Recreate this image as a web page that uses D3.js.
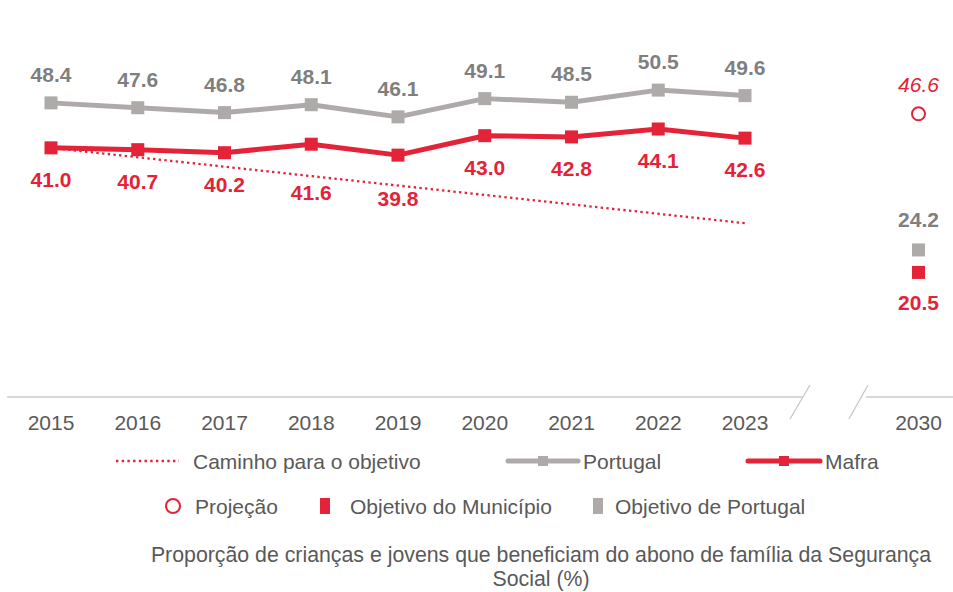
<!DOCTYPE html>
<html><head><meta charset="utf-8">
<script src="https://cdn.jsdelivr.net/npm/d3@7"></script>
<style>body{margin:0;background:#fff;}svg{display:block;font-family:"Liberation Sans",Arial,sans-serif;}</style>
</head><body><svg id="c" width="953" height="592"></svg>
<script>
const years = ["2015","2016","2017","2018","2019","2020","2021","2022","2023"];
const targetYear = "2030";
const portugal = [48.4,47.6,46.8,48.1,46.1,49.1,48.5,50.5,49.6];
const mafra = [41.0,40.7,40.2,41.6,39.8,43.0,42.8,44.1,42.6];
const pathYears = ["2015","2023"];
const pathValues = [41.0,28.6];
const projection = 46.6;
const targetMafra = 20.5;
const targetPortugal = 24.2;
const legend1 = ["Caminho para o objetivo","Portugal","Mafra"];
const legend2 = ["Projeção","Objetivo do Município","Objetivo de Portugal"];
const caption = ["Proporção de crianças e jovens que beneficiam do abono de família da Segurança","Social (%)"];

const RED="#e42338", GREY="#aeaaaa", GREYTXT="#7f7f7f", AXTXT="#595959";
const FS=21;
const svg=d3.select("#c");
const x=d3.scalePoint().domain([...years," ",targetYear]).range([51,918.5]);
const y=d3.scaleLinear().domain([0,65]).range([397,2]);

// axis line with break
const g=svg.append("g");
g.append("line").attr("x1",7).attr("x2",803).attr("y1",y(0)).attr("y2",y(0)).attr("stroke","#d9d9d9").attr("stroke-width",2);
g.append("line").attr("x1",866).attr("x2",953).attr("y1",y(0)).attr("y2",y(0)).attr("stroke","#d9d9d9").attr("stroke-width",2);
[[810,790],[868,849]].forEach(([a,b])=>g.append("line").attr("x1",a).attr("y1",385).attr("x2",b).attr("y2",419).attr("stroke","#c8c8c8").attr("stroke-width",1.3));
// tick labels
[...years,targetYear].forEach(t=>g.append("text").attr("x",x(t)).attr("y",430).attr("text-anchor","middle").attr("font-size",FS).attr("fill",AXTXT).text(t));

// dotted path
svg.append("path").datum(pathYears.map((t,i)=>[t,pathValues[i]]))
 .attr("d",d3.line().x(d=>x(d[0])).y(d=>y(d[1])))
 .attr("fill","none").attr("stroke",RED).attr("stroke-width",2.3).attr("stroke-dasharray","2.4 3.3");

// label offsets (style): some Mafra labels moved below the dotted path
const mafraLabelShift = {"2018":56,"2019":51};

function series(vals,color,lblColor,dy,shift){
  const data=years.map((t,i)=>[t,vals[i]]);
  svg.append("path").datum(data).attr("d",d3.line().x(d=>x(d[0])).y(d=>y(d[1])))
    .attr("fill","none").attr("stroke",color).attr("stroke-width",5).attr("stroke-linejoin","round");
  svg.selectAll(null).data(data).enter().append("rect")
    .attr("x",d=>x(d[0])-6.5).attr("y",d=>y(d[1])-6.5).attr("width",13).attr("height",13).attr("fill",color);
  svg.selectAll(null).data(data).enter().append("text")
    .attr("x",d=>x(d[0])).attr("y",d=>y(d[1])+((shift&&shift[d[0]])||dy)).attr("text-anchor","middle")
    .attr("font-size",FS).attr("font-weight","bold").attr("fill",lblColor).text(d=>d[1].toFixed(1));
}
series(portugal,GREY,GREYTXT,-21,null);
series(mafra,RED,RED,39,mafraLabelShift);

// 2030 points
const x30=x(targetYear);
svg.append("circle").attr("cx",x30).attr("cy",y(projection)).attr("r",6.5).attr("fill","#fff").attr("stroke",RED).attr("stroke-width",2);
svg.append("text").attr("x",x30).attr("y",y(projection)-22).attr("text-anchor","middle").attr("font-size",FS).attr("font-style","italic").attr("fill",RED).text(projection.toFixed(1));
svg.append("rect").attr("x",x30-6.5).attr("y",y(targetPortugal)-6.5).attr("width",13).attr("height",13).attr("fill",GREY);
svg.append("text").attr("x",x30).attr("y",y(targetPortugal)-23).attr("text-anchor","middle").attr("font-size",FS).attr("font-weight","bold").attr("fill",GREYTXT).text(targetPortugal.toFixed(1));
svg.append("rect").attr("x",x30-6.5).attr("y",y(targetMafra)-6.5).attr("width",13).attr("height",13).attr("fill",RED);
svg.append("text").attr("x",x30).attr("y",y(targetMafra)+38).attr("text-anchor","middle").attr("font-size",FS).attr("font-weight","bold").attr("fill",RED).text(targetMafra.toFixed(1));

// legend row 1
const L=svg.append("g").attr("font-size",FS).attr("fill",AXTXT);
const ly1=461;
L.append("line").attr("x1",116).attr("x2",179).attr("y1",ly1).attr("y2",ly1).attr("stroke",RED).attr("stroke-width",2.3).attr("stroke-dasharray","2.4 3.3");
L.append("text").attr("x",193).attr("y",ly1+8).text(legend1[0]);
[[508,578,GREY,583,legend1[1]],[748,820,RED,825,legend1[2]]].forEach(([a,b,c,tx,t])=>{
  L.append("line").attr("x1",a).attr("x2",b).attr("y1",ly1).attr("y2",ly1).attr("stroke",c).attr("stroke-width",5).attr("stroke-linecap","round");
  L.append("rect").attr("x",(a+b)/2-5).attr("y",ly1-5).attr("width",10).attr("height",10).attr("fill",c);
  L.append("text").attr("x",tx).attr("y",ly1+8).text(t);
});
// legend row 2
const ly2=506;
L.append("circle").attr("cx",173).attr("cy",ly2).attr("r",7).attr("fill","#fff").attr("stroke",RED).attr("stroke-width",2);
L.append("text").attr("x",195).attr("y",ly2+8).text(legend2[0]);
L.append("rect").attr("x",320).attr("y",ly2-8).attr("width",10).attr("height",16).attr("fill",RED);
L.append("text").attr("x",350).attr("y",ly2+8).text(legend2[1]);
L.append("rect").attr("x",593).attr("y",ly2-8).attr("width",10).attr("height",16).attr("fill",GREY);
L.append("text").attr("x",615).attr("y",ly2+8).text(legend2[2]);

// caption
caption.forEach((t,i)=>svg.append("text").attr("x",541).attr("y",562+i*24).attr("text-anchor","middle").attr("font-size",21.3).attr("fill",AXTXT).text(t));
</script></body></html>
